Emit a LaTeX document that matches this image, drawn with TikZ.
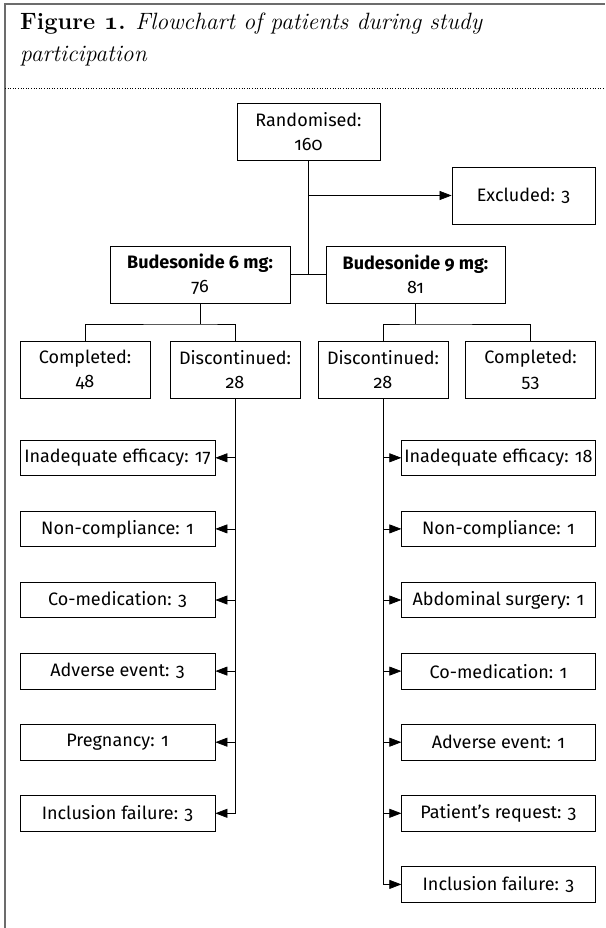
\documentclass[tikz,border=0pt]{standalone}
\usepackage{fontspec}
\setsansfont{Fira Sans}[Numbers=OldStyle]
\usetikzlibrary{arrows.meta}
\newcommand\osfig[1]{{\usefont{OML}{cmm}{b}{it}#1}}
\tikzset{
	box/.style={draw,line width=0.8pt,minimum height=57pt,inner sep=1pt,align=center,font=\sffamily\fontsize{18}{24}\selectfont},
	reason/.style={box,minimum height=35.7pt},
	link/.style={line width=0.7pt},
	arr/.style={link,-{Triangle[length=12pt,width=9pt]}},
	frame/.style={draw=gray!85!black,line width=1.6pt}
}
\begin{document}
\begin{tikzpicture}[x=1pt,y=1pt]
	\useasboundingbox (0,0) rectangle (605,-928);
	\draw[frame] (5,-928) -- (5,-4) -- (605,-4);
	\draw[dotted,line width=0.6pt] (5,-88) -- (605,-88);
	\node (title) [anchor=base west,inner sep=0,font=\fontsize{23.6}{28}\selectfont] at (20,-30) {\textbf{Figure \osfig{1}.} \textit{Flowchart of patients during study}};
	\node (titlecont) [anchor=base west,inner sep=0,font=\fontsize{23.6}{28}\selectfont] at (20,-62) {\textit{participation}};

	\node [box,minimum width=143pt] (rand) at (308.5,-131.5) {Randomised:\\160};
	\node [box,minimum width=143pt] (excl) at (523.5,-195.5) {Excluded: 3};
	\node [box,minimum width=180pt] (bud6) at (200,-274.5) {\textbf{Budesonide 6 mg:}\\76};
	\node [box,minimum width=179pt] (bud9) at (415.5,-274.5) {\textbf{Budesonide 9 mg:}\\81};
	\node [box,minimum width=130pt] (compL) at (85,-369.5) {Completed:\\48};
	\node [box,minimum width=130pt] (discL) at (235,-369.5) {Discontinued:\\28};
	\node [box,minimum width=130pt] (discR) at (383,-369.5) {Discontinued:\\28};
	\node [box,minimum width=130pt] (compR) at (530.5,-369.5) {Completed:\\53};

	\foreach \txt [count=\i] in {Inadequate efficacy: 17,Non-compliance: 1,Co-medication: 3,Adverse event: 3,Pregnancy: 1,Inclusion failure: 3}
		\node [reason,minimum width=195pt] (l\i) at (117.5,{-457.8-71.1*(\i-1)}) {\txt};
	\foreach \txt [count=\i] in {Inadequate efficacy: 18,Non-compliance: 1,Abdominal surgery: 1,Co-medication: 1,Adverse event: 1,Patient’s request: 3,Inclusion failure: 3}
		\node [reason,minimum width=193.3pt] (r\i) at (498.4,{-457.8-71.1*(\i-1)}) {\txt};

	\coordinate (split) at (rand.south |- excl.west);
	\coordinate (fork6) at (200,-324);
	\coordinate (fork9) at (415.5,-324);

	\draw [link] (rand.south) -- (rand.south |- bud6.east);
	\draw [link] (bud6.east) -- (bud9.west);
	\draw [arr] (split) -- (excl.west);
	\draw [link] (bud6.south) -- (fork6);
	\draw [link] (compL.north) |- (fork6) -| (discL.north);
	\draw [link] (bud9.south) -- (fork9);
	\draw [link] (discR.north) |- (fork9) -| (compR.north);

	\draw [arr] (discL.south) |- (l6.east);
	\foreach \i in {1,...,5}
		\draw [arr] (discL.south |- l\i.east) -- (l\i.east);
	\draw [arr] (discR.south) |- (r7.west);
	\foreach \i in {1,...,6}
		\draw [arr] (discR.south |- r\i.west) -- (r\i.west);
\end{tikzpicture}
\end{document}
